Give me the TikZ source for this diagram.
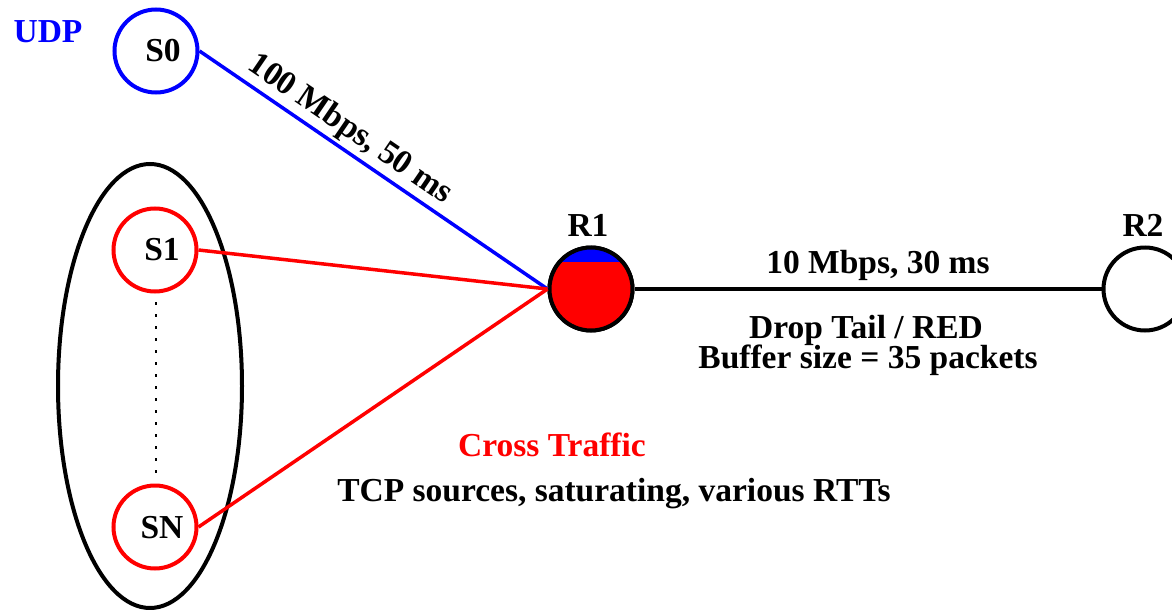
\documentclass[tikz,border=0pt]{standalone}
\usepackage{fontspec}
\setmainfont{Liberation Serif}
\definecolor{pblue}{RGB}{0,0,255}
\definecolor{pred}{RGB}{255,0,0}
\begin{document}
\begin{tikzpicture}[x=1pt,y=-1pt,
  every node/.style={font=\fontsize{33.5}{40}\selectfont\bfseries},
  hostnode/.style={circle,draw,line width=4pt,minimum size=83pt,inner sep=0pt},
  txt/.style={anchor=base,inner sep=0pt},
  link/.style={line width=3.5pt}]
\useasboundingbox (0,0) rectangle (1172,610);
% group ellipse
\draw[line width=4pt] (150,386) ellipse [x radius=92, y radius=222];
% hosts
\node[hostnode,draw=pblue] (S0) at (156,51) {};
\node[hostnode,draw=pred] (S1) at (155,250) {};
\node[hostnode,draw=pred] (SN) at (155,527) {};
\node[hostnode,draw=black] (R1) at (591,289) {};
\node[hostnode,draw=black] (R2) at (1145,289) {};
% R1 fill
\begin{scope}
  \clip (591,289) circle (41.5);
  \fill[pred] (540,240) rectangle (640,340);
  \fill[pblue] (540,240) rectangle (640,262);
\end{scope}
\draw[line width=4pt] (R1.center) circle (41.5);
% labels in nodes
\node[txt] (tS0) at (163,62) {S0};
\node[txt] (tS1) at (162,260) {S1};
\node[txt] (tSN) at (162,538) {SN};
\node[txt] (tR1) at (588,236) {R1};
\node[txt] (tR2) at (1143,236) {R2};
\node[txt,text=pblue] (udp) at (48,43) {UDP};
% dotted
\coordinate (d1) at (156,302);
\coordinate (d2) at (156,478);
\draw[line width=2.5pt,dash pattern=on 3pt off 9pt] (d1) -- (d2);
% links
\draw[link,pblue] (S0.east) -- node[pos=0.40,sloped,above,inner sep=3pt,text=black] (l0) {100 Mbps, 50 ms} (R1.west);
\draw[link,pred] (S1.east) -- (R1.west);
\draw[link,pred] (SN.east) -- (R1.west);
\draw[link] (R1.east) -- (R2.west);
% texts
\node[txt] (bw) at (878,273) {10 Mbps, 30 ms};
\node[txt] (dt) at (866,338) {Drop Tail / RED};
\node[txt] (buf) at (868,368) {Buffer size = 35 packets};
\node[txt,text=pred] (ct) at (552,456) {Cross Traffic};
\node[txt] (tcp) at (614,501) {TCP sources, saturating, various RTTs};
\end{tikzpicture}
\end{document}
